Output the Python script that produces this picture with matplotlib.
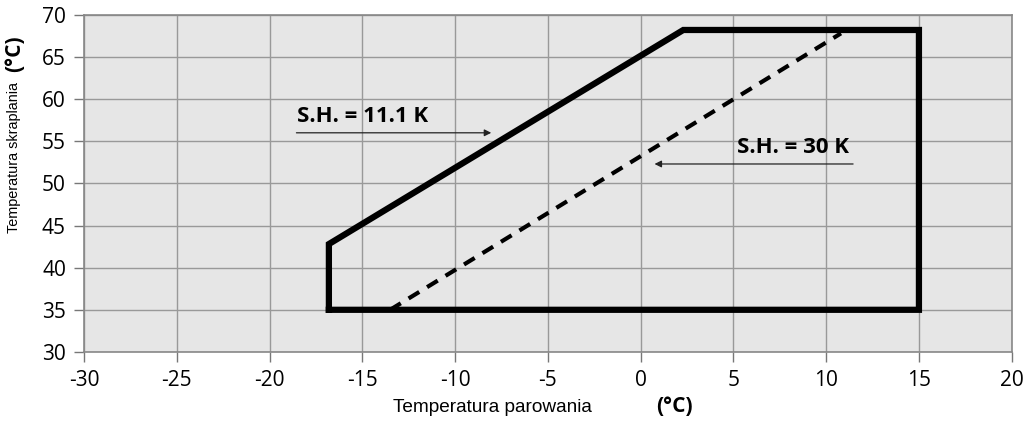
import matplotlib.pyplot as plt

# dane
envelope_x = [-16.8, -16.8, 2.3, 15.0, 15.0, -16.8]
envelope_y = [35.0, 42.8, 68.2, 68.2, 35.0, 35.0]
sh30_x = [-13.5, 10.8]
sh30_y = [35.0, 67.8]

x_ticks = [-30, -25, -20, -15, -10, -5, 0, 5, 10, 15, 20]
y_ticks = [30, 35, 40, 45, 50, 55, 60, 65, 70]

plt.rcParams['font.family'] = ['Open Sans', 'DejaVu Sans']
plt.rcParams['axes.unicode_minus'] = False

fig = plt.figure(figsize=(10.24, 4.23), dpi=100)
ax = fig.add_axes([0.082, 0.168, 0.906, 0.797])
ax.set_facecolor('#e6e6e6')

ax.plot(envelope_x, envelope_y, color='black', lw=4.5, solid_joinstyle='miter', zorder=3)
ax.plot(sh30_x, sh30_y, color='black', lw=3, ls=(0, (3, 2.2)), zorder=3)

ax.annotate('', xy=(-7.9, 56.0), xytext=(-18.7, 56.0),
            arrowprops=dict(arrowstyle='-|>', lw=0.9, color='#222222', mutation_scale=10))
ax.text(-18.5, 56.7, 'S.H. = 11.1 K', fontsize=16, fontweight='bold', ha='left', va='bottom')
ax.annotate('', xy=(0.6, 52.3), xytext=(11.6, 52.3),
            arrowprops=dict(arrowstyle='-|>', lw=0.9, color='#222222', mutation_scale=10))
ax.text(5.2, 53.0, 'S.H. = 30 K', fontsize=16, fontweight='bold', ha='left', va='bottom')

ax.set_xlim(-30, 20)
ax.set_ylim(30, 70)
ax.set_xticks(x_ticks)
ax.set_yticks(y_ticks)
ax.tick_params(labelsize=15, length=7, width=1, color='#777777', pad=6)
ax.grid(True, color='#999999', lw=1)
ax.set_axisbelow(True)
for s in ax.spines.values():
    s.set_color('#888888')
    s.set_linewidth(1.2)

fig.text(0.384, 0.025, 'Temperatura parowania', fontsize=13.7, family='Liberation Sans')
fig.text(0.641, 0.025, '(°C)', fontsize=15, fontweight='bold')
fig.text(0.007, 0.628, 'Temperatura skraplania', fontsize=10.4, rotation=90, va='center',
         family='Liberation Sans')
fig.text(0.004, 0.872, '(°C)', fontsize=15, fontweight='bold', rotation=90, va='center')

fig.savefig('out.png', dpi=100)
